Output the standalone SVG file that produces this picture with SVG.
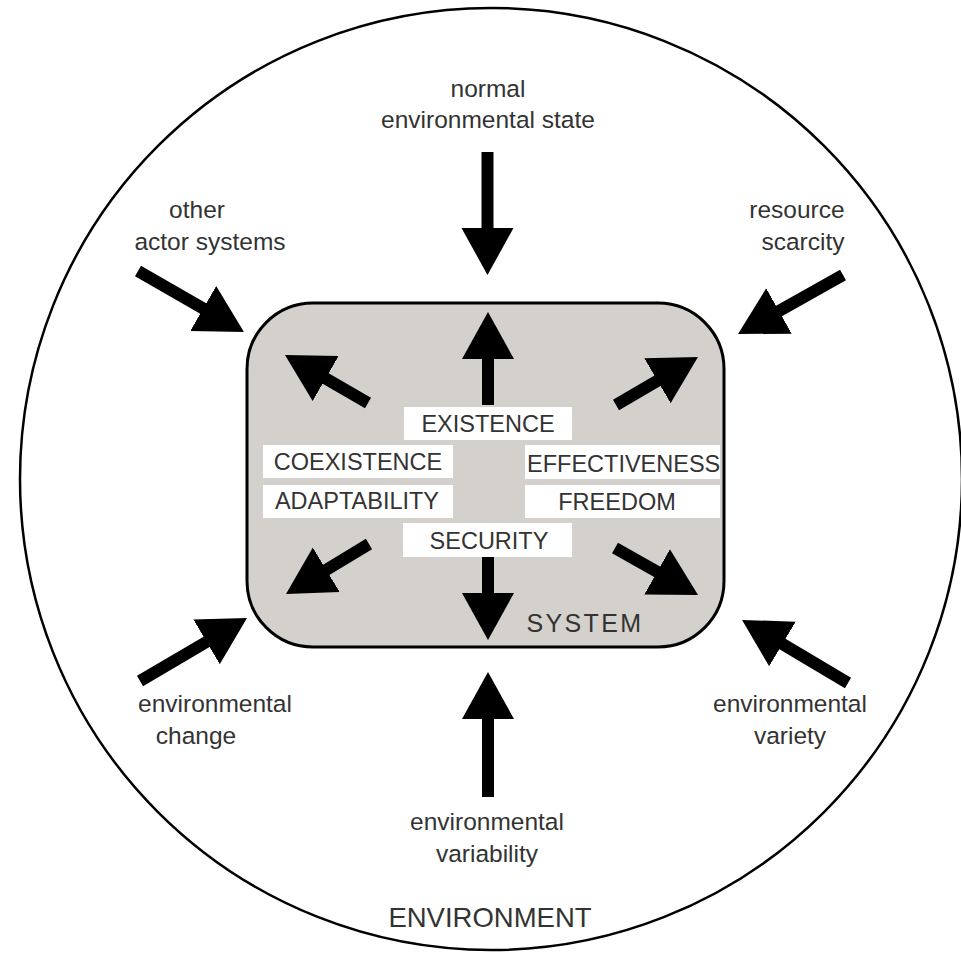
<svg xmlns="http://www.w3.org/2000/svg" width="961" height="954" viewBox="0 0 961 954">
  <style>
    .lbl { font-family: "Liberation Sans", Arial, sans-serif; font-size: 24.5px; fill: #333; text-anchor: middle; }
    .cap { font-family: "Liberation Sans", Arial, sans-serif; font-size: 23.5px; fill: #333; text-anchor: middle; }
    .tag { fill: #ffffff; }
    .shaft { stroke: #000; stroke-width: 12; fill: none; marker-end: url(#head); }
  </style>
  <defs>
    <marker id="head" markerUnits="userSpaceOnUse" viewBox="0 -27 50 54" markerWidth="50" markerHeight="54" refX="1" refY="0" orient="auto">
      <path d="M0,-26 L47,0 L0,26 Z" fill="#000"/>
    </marker>
  </defs>

  <rect width="961" height="954" fill="#fff"/>

  <!-- environment boundary -->
  <g id="environment">
    <circle cx="491" cy="479" r="471" fill="none" stroke="#000" stroke-width="2.5"/>
    <text x="490" y="927" class="lbl" style="font-size:27.5px">ENVIRONMENT</text>
  </g>

  <!-- system box with its values -->
  <g id="system">
    <rect x="247" y="303" width="477" height="344" rx="66" ry="66" fill="#d4d1cc" stroke="#000" stroke-width="3"/>
    <text x="585" y="632" class="cap" style="font-size:25px;letter-spacing:2.4px">SYSTEM</text>
  </g>
  <g id="existence">
    <rect class="tag" x="404" y="407" width="168" height="33"/>
    <text x="488" y="432" class="cap">EXISTENCE</text>
  </g>
  <g id="coexistence">
    <rect class="tag" x="263" y="445" width="190" height="33"/>
    <text x="358" y="470" class="cap">COEXISTENCE</text>
  </g>
  <g id="adaptability">
    <rect class="tag" x="263" y="485" width="190" height="33"/>
    <text x="357" y="509" class="cap">ADAPTABILITY</text>
  </g>
  <g id="effectiveness">
    <rect class="tag" x="525" y="445" width="195" height="34"/>
    <text x="527" y="472" class="cap" style="text-anchor:start">EFFECTIVENESS</text>
  </g>
  <g id="freedom">
    <rect class="tag" x="525" y="485" width="195" height="33"/>
    <text x="617" y="510" class="cap">FREEDOM</text>
  </g>
  <g id="security">
    <rect class="tag" x="403" y="523" width="169" height="34"/>
    <text x="489" y="549" class="cap">SECURITY</text>
  </g>

  <!-- environmental influences -->
  <g id="normal-state">
    <text x="488" y="97" class="lbl">normal</text>
    <text x="488" y="128" class="lbl">environmental state</text>
  </g>
  <g id="other-actors">
    <text x="197" y="218" class="lbl">other</text>
    <text x="210" y="250" class="lbl">actor systems</text>
  </g>
  <g id="resource-scarcity">
    <text x="797" y="218" class="lbl">resource</text>
    <text x="803" y="250" class="lbl">scarcity</text>
  </g>
  <g id="env-change">
    <text x="215" y="712" class="lbl">environmental</text>
    <text x="196" y="744" class="lbl">change</text>
  </g>
  <g id="env-variety">
    <text x="790" y="712" class="lbl">environmental</text>
    <text x="790" y="744" class="lbl">variety</text>
  </g>
  <g id="env-variability">
    <text x="487" y="830" class="lbl">environmental</text>
    <text x="487" y="862" class="lbl">variability</text>
  </g>

  <!-- connectors -->
  <g id="connectors">
    <!-- inward pressures -->
    <line class="shaft" x1="487.5" y1="152" x2="487.5" y2="229"/>
    <line class="shaft" x1="488" y1="797" x2="488" y2="718"/>
    <line class="shaft" x1="138" y1="271" x2="204.1" y2="309"/>
    <line class="shaft" x1="843" y1="275" x2="778.1" y2="311.5"/>
    <line class="shaft" x1="140" y1="681" x2="207.4" y2="641.3"/>
    <line class="shaft" x1="848" y1="683" x2="781.6" y2="643.5"/>
    <!-- outward orientations -->
    <line class="shaft" x1="488" y1="405" x2="488" y2="358"/>
    <line class="shaft" x1="488" y1="557" x2="488" y2="594"/>
    <line class="shaft" x1="368" y1="403" x2="324.8" y2="378"/>
    <line class="shaft" x1="616" y1="405" x2="658.3" y2="380.2"/>
    <line class="shaft" x1="369" y1="544" x2="325.4" y2="570.3"/>
    <line class="shaft" x1="615" y1="548" x2="658" y2="572.3"/>
  </g>
</svg>
